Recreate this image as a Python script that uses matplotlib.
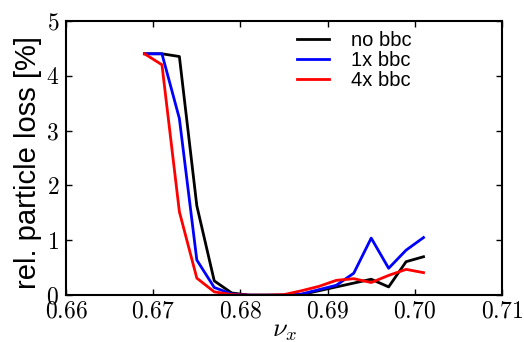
import numpy as np
import matplotlib
matplotlib.use("Agg")
import matplotlib.pyplot as plt
from matplotlib.ticker import FormatStrFormatter

plt.rcParams['mathtext.fontset'] = 'cm'
plt.rcParams['font.family'] = ['Liberation Sans', 'DejaVu Sans']

tune = [0.669, 0.671, 0.673, 0.675, 0.677, 0.679, 0.681, 0.683, 0.685,
        0.687, 0.689, 0.691, 0.693, 0.695, 0.697, 0.699, 0.701]
loss_no_bbc = [4.40, 4.40, 4.35, 1.63, 0.26, 0.04, 0.0, 0.0, 0.0,
               0.01, 0.08, 0.15, 0.22, 0.29, 0.15, 0.61, 0.70]
loss_1x_bbc = [4.40, 4.40, 3.22, 0.64, 0.14, 0.02, 0.0, 0.0, 0.0,
               0.02, 0.10, 0.18, 0.40, 1.04, 0.49, 0.82, 1.05]
loss_4x_bbc = [4.40, 4.20, 1.52, 0.31, 0.06, 0.01, 0.0, 0.0, 0.01,
               0.08, 0.16, 0.27, 0.30, 0.23, 0.36, 0.47, 0.41]

fig = plt.figure(figsize=(5.24, 3.42), dpi=100)
ax = fig.add_axes([0.126, 0.137, 0.832, 0.802])

ax.plot(tune, loss_no_bbc, color='black', lw=2, label='no bbc')
ax.plot(tune, loss_1x_bbc, color='blue', lw=2, label='1x bbc')
ax.plot(tune, loss_4x_bbc, color='red', lw=2, label='4x bbc')

ax.set_xlim(0.66, 0.71)
ax.set_ylim(0, 5)
ax.set_xticks([0.66, 0.67, 0.68, 0.69, 0.70, 0.71])
ax.set_yticks([0, 1, 2, 3, 4, 5])
ax.xaxis.set_major_formatter(FormatStrFormatter('$%.2f$'))
ax.yaxis.set_major_formatter(FormatStrFormatter('$%d$'))
ax.tick_params(direction='in', top=True, right=True, length=4.5, width=1,
               labelsize=17)
ax.tick_params(axis='x', pad=4)
ax.tick_params(axis='y', pad=5)
for s in ax.spines.values():
    s.set_linewidth(1.5)

ax.set_xlabel(r'$\nu_x$', fontsize=19)
ax.xaxis.set_label_coords(0.5, -0.088)
ax.set_ylabel('rel. particle loss [%]', fontsize=21)
ax.yaxis.set_label_coords(-0.056, 0.485)

ax.legend(loc='upper left', frameon=False, fontsize=14.5, handlelength=1.6,
          handletextpad=1.1, borderaxespad=0.0, labelspacing=0.05,
          bbox_to_anchor=(289 / 524, 1 - 23 / 342),
          bbox_transform=fig.transFigure)

fig.savefig('out.png', dpi=100)
